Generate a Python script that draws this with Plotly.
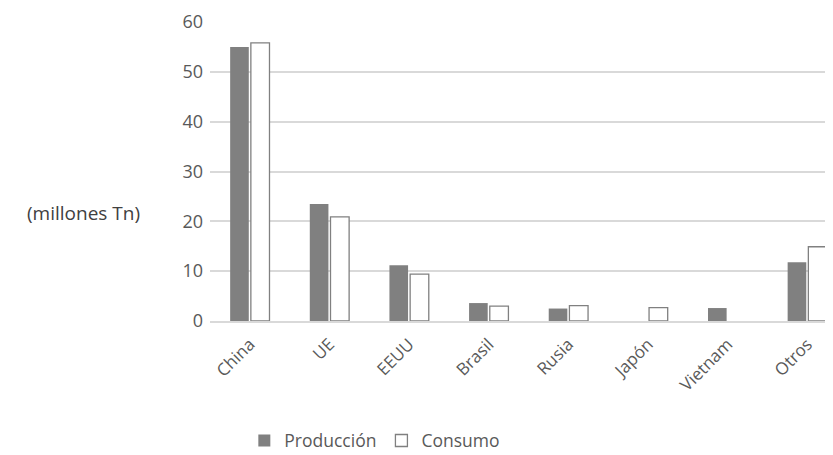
import plotly.graph_objects as go

categories = ["China", "UE", "EEUU", "Brasil", "Rusia", "Japón", "Vietnam", "Otros"]
produccion = [55.0, 23.5, 11.2, 3.6, 2.5, None, 2.6, 11.8]
consumo = [55.8, 20.9, 9.4, 3.0, 3.1, 2.7, None, 14.9]
y_ticks = [0, 10, 20, 30, 40, 50, 60]

FONT = "Open Sans"
TXT = "#595959"

fig = go.Figure()
fig.add_trace(go.Bar(
    x=categories, y=produccion, name="Producción",
    marker=dict(color="#808080", line=dict(width=0)),
))
fig.add_trace(go.Bar(
    x=categories, y=consumo, name="Consumo",
    marker=dict(color="#ffffff", line=dict(color="#808080", width=1.3)),
))

# page body has an 8px default margin; figure sized to compensate
fig.update_layout(
    width=825, height=447,
    margin=dict(l=202, r=1, t=14, b=134, autoexpand=False),
    paper_bgcolor="white", plot_bgcolor="white",
    barmode="group", bargap=0.48, bargroupgap=0.1,
    font=dict(family=FONT, size=17, color=TXT),
    showlegend=True,
    legend=dict(orientation="h", x=0.265, xanchor="center", y=-0.40, yanchor="middle",
                font=dict(family=FONT, size=17.5, color=TXT), itemwidth=30,
                traceorder="normal"),
    xaxis=dict(
        range=[-0.5, 7.31], showgrid=False, showline=True, linecolor="#d9d9d9", linewidth=1.5,
        tickangle=-45, ticks="", tickfont=dict(family=FONT, size=17, color=TXT),
        ticklabelstandoff=5, automargin=False,
    ),
    yaxis=dict(
        range=[0, 60], tickvals=y_ticks, showgrid=True, gridcolor="#d9d9d9", gridwidth=1.5,
        zeroline=False, showline=False, ticks="", ticklen=0, ticklabelstandoff=6,
        tickfont=dict(family=FONT, size=18, color=TXT), automargin=False,
    ),
    annotations=[dict(
        text="(millones Tn)", xref="paper", yref="paper", x=-0.203, y=0.36,
        xanchor="center", yanchor="middle", showarrow=False,
        font=dict(family=FONT, size=19, color="#404040"),
    )],
)

fig.write_html("out.html")
